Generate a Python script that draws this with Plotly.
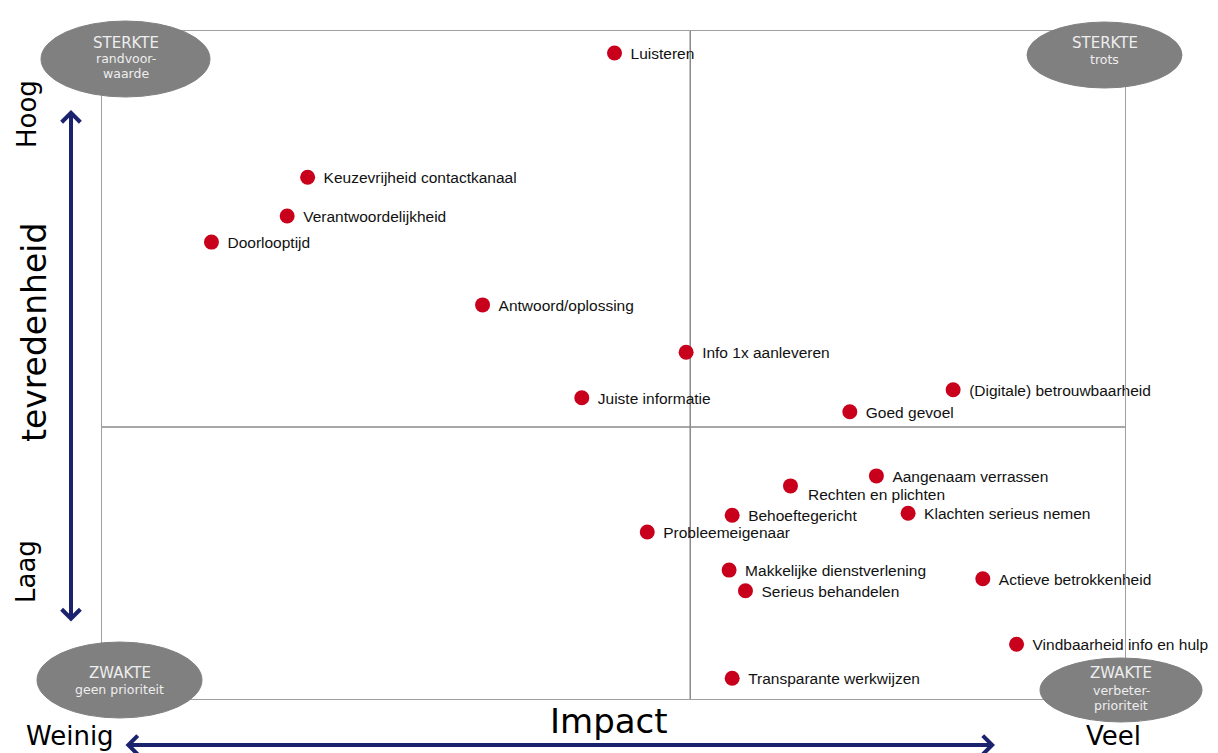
import plotly.graph_objects as go

# Impact (x) versus tevredenheid (y), both on a 0-100 scale
labels = [
    "Luisteren", "Keuzevrijheid contactkanaal", "Verantwoordelijkheid", "Doorlooptijd",
    "Antwoord/oplossing", "Info 1x aanleveren", "Juiste informatie", "Goed gevoel",
    "(Digitale) betrouwbaarheid", "Aangenaam verrassen", "Rechten en plichten",
    "Behoeftegericht", "Klachten serieus nemen", "Probleemeigenaar",
    "Makkelijke dienstverlening", "Actieve betrokkenheid", "Serieus behandelen",
    "Vindbaarheid info en hulp", "Transparante werkwijzen",
]
impact = [50.1, 20.1, 18.1, 10.7, 37.2, 57.1, 46.9, 73.1, 83.2, 75.7, 67.3,
          61.6, 78.8, 53.3, 61.3, 86.1, 62.9, 89.4, 61.6]
tevredenheid = [96.7, 78.1, 72.3, 68.4, 59.0, 51.9, 45.1, 43.0, 46.3, 33.4, 31.9,
                27.5, 27.8, 25.0, 19.3, 18.0, 16.2, 8.2, 3.1]

# quadrant dividers
X_MID = 57.5
Y_MID = 40.7

# one label sits below-right of its point instead of to the right
BELOW_LABEL = "Rechten en plichten"

W, H = 1218, 753
ML, MR, MT, MB = 102, 93, 31, 54
PW, PH = W - ML - MR, H - MT - MB


def px(x):
    return (x - ML) / PW


def py(y):
    return (H - MB - y) / PH


RED = "#C8001C"
NAVY = "#1B226E"
GREY_FILL = "#808080"
LABEL_FONT = dict(family="Liberation Sans, Arial, sans-serif", size=15.5, color="#111111")

# labels sit a couple of pixels below the point centre: a twin y-axis nudges them down
LABEL_DROP = 2 * 100 / PH

fig = go.Figure()

# point labels (drawn first so the divider lines pass over them)
side_text = [("" if l == BELOW_LABEL else l) for l in labels]
fig.add_trace(go.Scatter(
    x=impact, y=tevredenheid, yaxis="y2", mode="markers+text", text=side_text,
    textposition="middle right", textfont=LABEL_FONT, cliponaxis=False,
    marker=dict(size=24, color="rgba(0,0,0,0)"), hoverinfo="skip", showlegend=False,
))

# quadrant divider lines
fig.add_trace(go.Scatter(x=[X_MID, X_MID], y=[0, 100], mode="lines",
                         line=dict(color="#8a8a8a", width=1.5), hoverinfo="skip", showlegend=False))
fig.add_trace(go.Scatter(x=[0, 100], y=[Y_MID, Y_MID], mode="lines",
                         line=dict(color="#8a8a8a", width=1.5), hoverinfo="skip", showlegend=False))

# the points themselves
fig.add_trace(go.Scatter(
    x=impact, y=tevredenheid, mode="markers", cliponaxis=False,
    marker=dict(size=15, color=RED, line=dict(width=0)),
    text=labels, hoverinfo="text", showlegend=False,
))

annotations = []
i = labels.index(BELOW_LABEL)
annotations.append(dict(x=impact[i], y=tevredenheid[i], xref="x", yref="y", text=BELOW_LABEL,
                        showarrow=False, xanchor="left", yanchor="middle",
                        xshift=16, yshift=-9, font=LABEL_FONT))

# corner ellipses with their captions
ellipses = [
    ((41, 210, 21, 97), ["STERKTE", "randvoor-", "waarde"], [43, 58, 74]),
    ((1027, 1182, 22, 88), ["STERKTE", "trots"], [43, 60]),
    ((37, 202, 642, 718), ["ZWAKTE", "geen prioriteit"], [673, 689]),
    ((1040, 1202, 658, 722), ["ZWAKTE", "verbeter-", "prioriteit"], [673, 690, 706]),
]
shapes = []
for (x0, x1, y0, y1), lines, ys in ellipses:
    shapes.append(dict(type="circle", xref="paper", yref="paper", layer="above",
                       x0=px(x0), x1=px(x1), y0=py(y1), y1=py(y0),
                       fillcolor=GREY_FILL, line=dict(color=GREY_FILL, width=1)))
    cx = (x0 + x1) / 2
    for k, (t, yy) in enumerate(zip(lines, ys)):
        annotations.append(dict(x=px(cx), y=py(yy), xref="paper", yref="paper", text=t,
                                showarrow=False, xanchor="center", yanchor="middle",
                                font=dict(family="DejaVu Sans, Verdana, sans-serif",
                                          size=15 if k == 0 else 12.5, color="#eeeeee")))

AX_FONT = "DejaVu Sans, Verdana, sans-serif"
# axis captions
annotations += [
    dict(x=px(35), y=py(333), text="tevredenheid", textangle=-90, font=dict(family=AX_FONT, size=33, color="#000")),
    dict(x=px(27), y=py(114), text="Hoog", textangle=-90, font=dict(family=AX_FONT, size=26, color="#000")),
    dict(x=px(26), y=py(572), text="Laag", textangle=-90, font=dict(family=AX_FONT, size=26, color="#000")),
    dict(x=px(609), y=py(721), text="Impact", font=dict(family=AX_FONT, size=34, color="#000")),
    dict(x=px(70), y=py(736), text="Weinig", font=dict(family=AX_FONT, size=26, color="#000")),
    dict(x=px(1113), y=py(736), text="Veel", font=dict(family=AX_FONT, size=26, color="#000")),
]
for a in annotations[-6:]:
    a.update(xref="paper", yref="paper", showarrow=False, xanchor="center", yanchor="middle")

# double-headed navy arrows along both axes
annotations += [
    dict(x=px(71), y=py(110), xref="paper", yref="paper", ax=0, ay=513, text="",
         showarrow=True, arrowhead=4, startarrowhead=4, arrowside="end+start",
         arrowwidth=4, arrowsize=0.9, startarrowsize=0.9, arrowcolor=NAVY),
    dict(x=px(995), y=py(745), xref="paper", yref="paper", ax=-871, ay=0, text="",
         showarrow=True, arrowhead=4, startarrowhead=4, arrowside="end+start",
         arrowwidth=4, arrowsize=0.9, startarrowsize=0.9, arrowcolor=NAVY),
]

axis_common = dict(showgrid=False, zeroline=False, showticklabels=False, ticks="",
                   showline=True, mirror=True, linecolor="#a0a0a0", linewidth=1.2,
                   layer="above traces", fixedrange=True)

fig.update_layout(
    width=W, height=H,
    margin=dict(l=ML, r=MR, t=MT, b=MB),
    paper_bgcolor="white", plot_bgcolor="white",
    xaxis=dict(range=[0, 100], **axis_common),
    yaxis=dict(range=[0, 100], **axis_common),
    yaxis2=dict(range=[LABEL_DROP, 100 + LABEL_DROP], overlaying="y", visible=False,
                fixedrange=True),
    shapes=shapes, annotations=annotations,
    showlegend=False,
)

fig.write_html("out.html")
